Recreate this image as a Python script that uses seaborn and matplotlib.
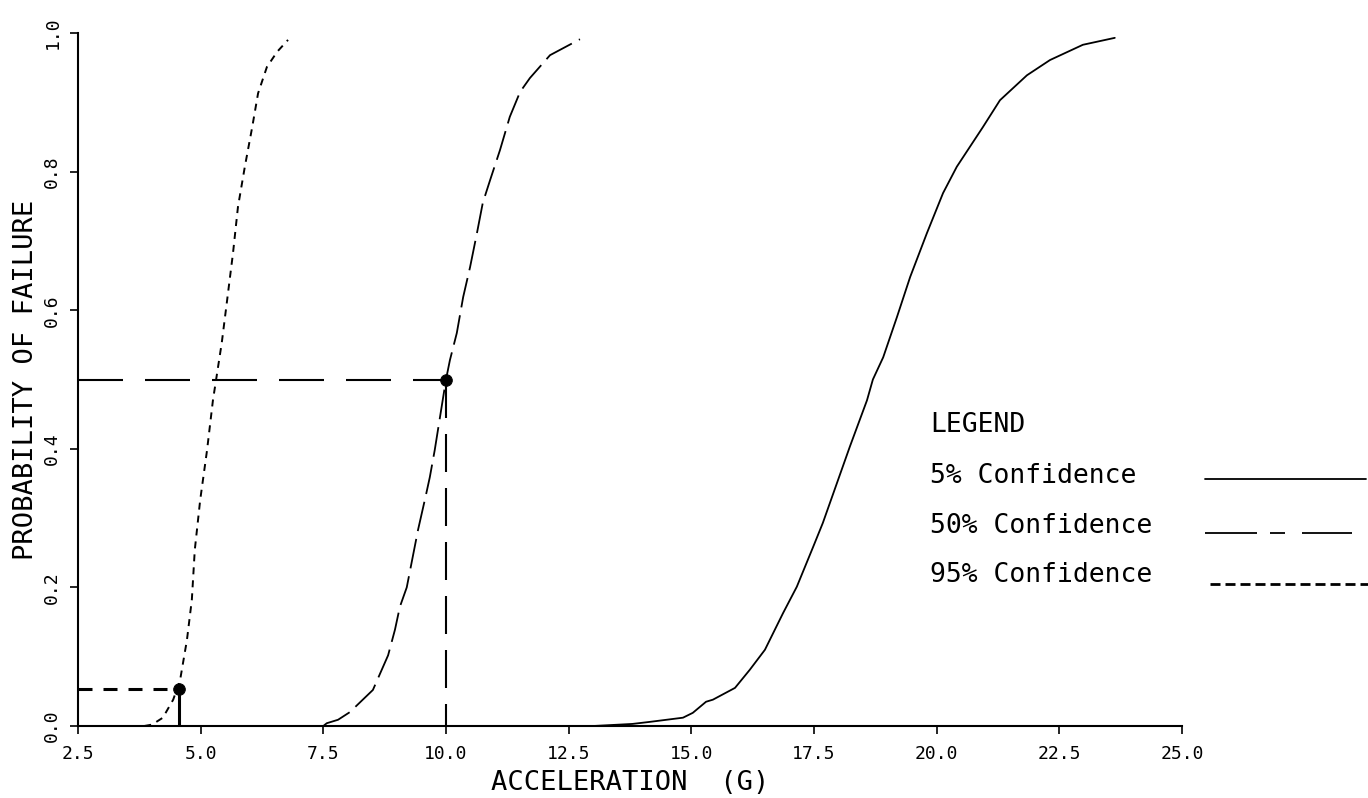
import matplotlib
matplotlib.use("Agg")
import matplotlib.pyplot as plt
from matplotlib.lines import Line2D
import seaborn as sns

# Curve readings (acceleration in G, probability of failure)
x_conf5 = [13.0, 13.8, 14.16, 14.83, 15.03, 15.3, 15.44, 15.89, 16.19, 16.5, 16.87, 17.15,
           17.48, 17.68, 18.23, 18.58, 18.7, 18.91, 19.19, 19.46, 19.8, 20.13, 20.41,
           20.94, 21.29, 21.84, 22.31, 22.98, 23.63]
y_conf5 = [0.0, 0.003, 0.006, 0.012, 0.019, 0.035, 0.038, 0.055, 0.081, 0.11, 0.163, 0.201,
           0.258, 0.293, 0.403, 0.47, 0.5, 0.532, 0.59, 0.648, 0.711, 0.769, 0.807,
           0.864, 0.903, 0.939, 0.961, 0.983, 0.993]

x_conf50 = [7.5, 7.57, 7.8, 8.04, 8.51, 8.82, 8.96, 9.06, 9.2, 9.43, 9.59, 9.67, 9.77,
            10.0, 10.08, 10.22, 10.35, 10.49, 10.63, 10.75, 10.9, 11.1, 11.3, 11.51,
            11.71, 12.12, 12.73]
y_conf50 = [0.0, 0.004, 0.009, 0.02, 0.052, 0.102, 0.139, 0.172, 0.2, 0.283, 0.333, 0.359,
            0.398, 0.5, 0.528, 0.567, 0.619, 0.662, 0.711, 0.755, 0.788, 0.831, 0.879,
            0.915, 0.935, 0.968, 0.991]

x_conf95 = [3.85, 4.01, 4.23, 4.44, 4.58, 4.72, 4.82, 4.88, 4.99, 5.13, 5.25, 5.43, 5.54,
            5.66, 5.76, 5.9, 6.05, 6.17, 6.35, 6.56, 6.78]
y_conf95 = [0.0, 0.002, 0.012, 0.038, 0.066, 0.124, 0.182, 0.254, 0.326, 0.398, 0.47,
            0.553, 0.615, 0.683, 0.749, 0.807, 0.864, 0.913, 0.951, 0.973, 0.99]

# marked points with guide lines
mark_x = [4.55, 10.0]
mark_y = [0.054, 0.5]

x_ticks = [2.5, 5.0, 7.5, 10.0, 12.5, 15.0, 17.5, 20.0, 22.5, 25.0]
y_ticks = [0.0, 0.2, 0.4, 0.6, 0.8, 1.0]
legend_labels = ["5% Confidence", "50% Confidence", "95% Confidence"]

W, H = 1368, 798

sns.set_style("ticks")
plt.rcParams["font.family"] = ["DejaVu Sans Mono", "DejaVu Sans"]
plt.rcParams["text.color"] = "black"
plt.rcParams["axes.labelcolor"] = "black"


def px(x, y):
    """Pixel position -> figure fraction."""
    return x / W, 1 - y / H


def dash(pattern_px, lw):
    """Dash pattern given in pixels -> linewidth units."""
    return (0, tuple(p * 0.72 / lw for p in pattern_px))


fig = plt.figure(figsize=(W / 100, H / 100), dpi=100)
ax = fig.add_axes([78 / W, (H - 726) / H, 1104 / W, 693 / H])

sns.lineplot(x=x_conf5, y=y_conf5, ax=ax, color="black", lw=1.3,
             sort=False, estimator=None)
sns.lineplot(x=x_conf50, y=y_conf50, ax=ax, color="black", lw=1.3,
             linestyle=dash([30, 8], 1.3), sort=False, estimator=None)
sns.lineplot(x=x_conf95, y=y_conf95, ax=ax, color="black", lw=1.4,
             linestyle=dash([7, 6], 1.4), sort=False, estimator=None)

# guide lines to the marked points
x0 = x_ticks[0]
ax.plot([x0, mark_x[0]], [mark_y[0], mark_y[0]], color="black", lw=2.2,
        linestyle=dash([14, 11], 2.2))
ax.plot([mark_x[0], mark_x[0]], [mark_y[0], 0], color="black", lw=2.2)
ax.plot([x0, mark_x[1]], [mark_y[1], mark_y[1]], color="black", lw=1.5,
        linestyle=dash([45, 22], 1.5))
ax.plot([mark_x[1], mark_x[1]], [mark_y[1], 0], color="black", lw=1.5,
        linestyle=dash([38, 16], 1.5))
sns.scatterplot(x=mark_x, y=mark_y, ax=ax, color="black", s=70,
                edgecolor="black", zorder=5)

ax.set_xlim(x_ticks[0], x_ticks[-1])
ax.set_ylim(y_ticks[0], y_ticks[-1])
ax.set_xticks(x_ticks)
ax.set_xticklabels([f"{t:.1f}" for t in x_ticks])
ax.set_yticks(y_ticks)
ax.set_yticklabels([f"{t:.1f}" for t in y_ticks])
ax.tick_params(axis="both", direction="out", length=6, width=1.2,
               labelsize=13, pad=8, colors="black")
ax.tick_params(axis="y", labelrotation=90, pad=6)
for lab in ax.get_yticklabels():
    lab.set_va("center")

ax.set_xlabel("ACCELERATION  (G)", fontsize=19.5, labelpad=5)
ax.set_ylabel("PROBABILITY OF FAILURE", fontsize=19.5, labelpad=3)
sns.despine(ax=ax)
for side in ["left", "bottom"]:
    ax.spines[side].set_linewidth(1.5)
    ax.spines[side].set_color("black")

# hand-drawn legend to the right of the plot
fig.text(*px(930, 425), "LEGEND", fontsize=19, va="center", ha="left")
text_y = [476, 526, 575]
for lab, ty in zip(legend_labels, text_y):
    fig.text(*px(930, ty), lab, fontsize=19, va="center", ha="left")

fig.add_artist(Line2D(*zip(px(1205, 479), px(1366, 479)), transform=fig.transFigure,
                      color="black", lw=1.3))
fig.add_artist(Line2D(*zip(px(1205, 533), px(1352, 533)), transform=fig.transFigure,
                      color="black", lw=1.3,
                      linestyle=dash([52, 13, 15, 17, 50, 40], 1.3)))
fig.add_artist(Line2D(*zip(px(1210, 584), px(1368, 584)), transform=fig.transFigure,
                      color="black", lw=2.0, linestyle=dash([10, 5], 2.0)))

fig.savefig("out.png", dpi=100)
